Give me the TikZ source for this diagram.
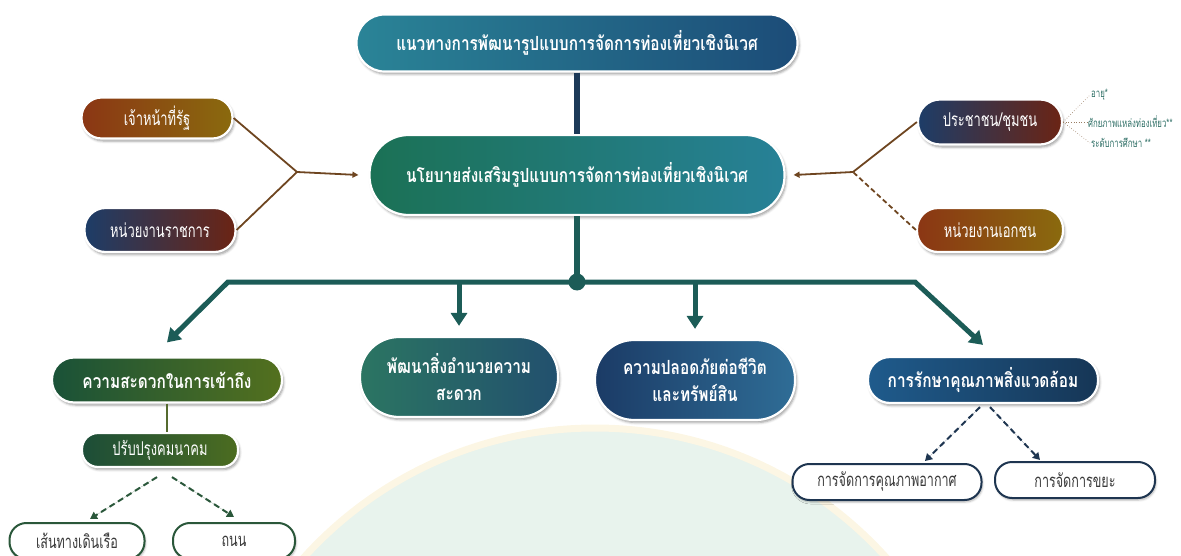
\documentclass[tikz,border=0pt]{standalone}
\usepackage{fontspec}
\newfontfamily\thaib[Script=Thai,FakeStretch=0.79]{Loma}
\newfontfamily\thair[Script=Thai,FakeStretch=0.68]{Loma}
\usetikzlibrary{arrows.meta,shadows.blur}
\definecolor{topL}{HTML}{2A8497}
\definecolor{topR}{HTML}{1C4C78}
\definecolor{midL}{HTML}{1B7155}
\definecolor{midR}{HTML}{278197}
\definecolor{rustL}{HTML}{8B3614}
\definecolor{rustR}{HTML}{8A6A0E}
\definecolor{navyL}{HTML}{1D3D68}
\definecolor{navyR}{HTML}{6B2414}
\definecolor{accL}{HTML}{1A5238}
\definecolor{accR}{HTML}{53701E}
\definecolor{facL}{HTML}{2B7562}
\definecolor{facR}{HTML}{22506E}
\definecolor{safL}{HTML}{1B3B66}
\definecolor{safR}{HTML}{2F6D96}
\definecolor{envL}{HTML}{1F5B8C}
\definecolor{envR}{HTML}{163656}
\definecolor{traL}{HTML}{1C4D38}
\definecolor{traR}{HTML}{4C6C20}
\definecolor{busc}{HTML}{1C5C57}
\definecolor{navyline}{HTML}{1D3A58}
\definecolor{brownline}{HTML}{6E4520}
\definecolor{greenline}{HTML}{2A573A}
\definecolor{oliveline}{HTML}{556B2F}
\definecolor{envline}{HTML}{1E3550}
\definecolor{txtgray}{HTML}{3A3A3A}
\definecolor{smalltxt}{HTML}{2F6F66}
\definecolor{wmgreen}{HTML}{E8F3ED}
\definecolor{wmring}{HTML}{FCF6E4}
\tikzset{
  pill/.style={rectangle, text=white, draw=white, line width=2.2pt, align=center, inner sep=2pt,
    blur shadow={shadow xshift=1.5pt, shadow yshift=-2.5pt, shadow blur radius=2.5pt, shadow opacity=40}},
  outl/.style={rectangle, fill=white, line width=2pt, text=txtgray, align=center, inner sep=2pt,
    blur shadow={shadow xshift=1pt, shadow yshift=-2pt, shadow blur radius=2pt, shadow opacity=30},
    font=\thair\fontsize{18.5}{20}\selectfont},
  boldtxt/.style={font=\thaib\bfseries\fontsize{19.5}{27}\selectfont},
  regtxt/.style={font=\thair\fontsize{19}{21}\selectfont},
  bus/.style={draw=busc, line width=5pt},
  busarrow/.style={bus, -{Triangle[width=16pt,length=13pt]}},
  brownln/.style={draw=brownline, line width=1.8pt},
  dasharrow/.style={line width=2pt, dash pattern=on 6pt off 4pt, -{Triangle[width=8pt,length=7pt]}},
  smalllbl/.style={text=smalltxt, font=\thair\fontsize{11.5}{12}\selectfont, anchor=west, inner sep=1pt},
  fanline/.style={draw=brownline!70, line width=0.6pt, dotted}
}
\begin{document}
\begin{tikzpicture}[x=1pt,y=-1pt]
\useasboundingbox (0,0) rectangle (1181,556);
% watermark background
\begin{scope}
\clip (0,0) rectangle (1181,556);
\fill[wmgreen] (595,820) circle (390);
\draw[wmring, line width=7pt] (595,820) circle (392);
\end{scope}

% nodes
\node[pill, boldtxt, left color=topL, right color=topR, minimum width=441pt, minimum height=57pt, rounded corners=28pt] (top) at (577,43) {แนวทางการพัฒนารูปแบบการจัดการท่องเที่ยวเชิงนิเวศ};
\node[pill, boldtxt, left color=midL, right color=midR, minimum width=415pt, minimum height=80pt, rounded corners=39pt] (mid) at (577,175) {นโยบายส่งเสริมรูปแบบการจัดการท่องเที่ยวเชิงนิเวศ};

\node[pill, regtxt, left color=rustL, right color=rustR, minimum width=151pt, minimum height=41pt, rounded corners=20pt] (state) at (157,118) {เจ้าหน้าที่รัฐ};
\node[pill, regtxt, left color=navyL, right color=navyR, minimum width=151pt, minimum height=44pt, rounded corners=21pt] (gov) at (160,230) {หน่วยงานราชการ};
\node[pill, regtxt, left color=navyL, right color=navyR, minimum width=144pt, minimum height=45pt, rounded corners=22pt] (people) at (990,122) {ประชาชน/ชุมชน};
\node[pill, regtxt, left color=rustL, right color=rustR, minimum width=146pt, minimum height=44pt, rounded corners=21pt] (private) at (990,230) {หน่วยงานเอกชน};

\node[smalllbl] (age) at (1090,95) {อายุ*};
\node[smalllbl] (pot) at (1087,122) {ศักยภาพแหล่งท่องเที่ยว**};
\node[smalllbl] (edu) at (1090,143) {ระดับการศึกษา **};

\node[pill, boldtxt, left color=accL, right color=accR, minimum width=230pt, minimum height=45pt, rounded corners=22pt] (access) at (167,380) {ความสะดวกในการเข้าถึง};
\node[pill, boldtxt, left color=facL, right color=facR, minimum width=198pt, minimum height=80pt, rounded corners=39pt] (facility) at (459,377) {พัฒนาสิ่งอำนวยความ\\สะดวก};
\node[pill, boldtxt, left color=safL, right color=safR, minimum width=200pt, minimum height=80pt, rounded corners=39pt] (safety) at (695,380) {ความปลอดภัยต่อชีวิต\\และทรัพย์สิน};
\node[pill, boldtxt, left color=envL, right color=envR, minimum width=230pt, minimum height=46pt, rounded corners=22pt] (env) at (983,380) {การรักษาคุณภาพสิ่งแวดล้อม};

\node[pill, regtxt, left color=traL, right color=traR, minimum width=156pt, minimum height=34pt, rounded corners=16pt] (transport) at (160,450) {ปรับปรุงคมนาคม};
\node[outl, draw=greenline, minimum width=135pt, minimum height=36pt, rounded corners=17pt] (boat) at (77,541) {เส้นทางเดินเรือ};
\node[outl, draw=greenline, minimum width=122pt, minimum height=36pt, rounded corners=17pt] (road) at (234,541) {ถนน};
\node[outl, draw=envline, minimum width=189pt, minimum height=36pt, rounded corners=17pt] (air) at (887,482) {การจัดการคุณภาพอากาศ};
\node[outl, draw=envline, minimum width=160pt, minimum height=36pt, rounded corners=17pt] (waste) at (1075,480) {การจัดการขยะ};

% coordinates
\coordinate (hub) at (577,282);
\coordinate (bl) at (228,282);
\coordinate (br) at (915,282);
\coordinate (lj) at (297,172);
\coordinate (rj) at (853,172);

% top connectors
\draw[draw=navyline, line width=6pt] (top.south) -- (mid.north);
\draw[bus, line width=6pt] (mid.south) -- (hub);
\draw[busarrow] (hub) -- (bl) -- ([yshift=14pt]access.north);
\draw[busarrow] (hub) -- (br) -- ([yshift=11pt]env.north);
\draw[busarrow] (facility.north |- hub) -- ([yshift=10pt]facility.north);
\draw[busarrow] (safety.north |- hub) -- ([yshift=10pt]safety.north);
\fill[busc] (hub) circle (8.5);

% side connectors
\draw[brownln] (state.east) -- (lj);
\draw[brownln] (gov.east) -- (lj);
\draw[brownln, -{Triangle[width=6pt,length=6pt]}] (lj) -- ([xshift=-10pt]mid.west);
\draw[brownln] (people.west) -- (rj);
\draw[brownln, dash pattern=on 5pt off 3pt] (private.west) -- (rj);
\draw[brownln, -{Triangle[width=6pt,length=6pt]}] (rj) -- ([xshift=8pt]mid.east);

\draw[fanline] (people.east) -- (age.west);
\draw[fanline] (people.east) -- (pot.west);
\draw[fanline] (people.east) -- (edu.west);

% lower connectors
\draw[draw=oliveline, line width=2pt] (access.south) -- (access.south |- transport.north);
\draw[dasharrow, draw=greenline, fill=greenline] ([xshift=-3pt,yshift=-9pt]transport.south) -- ([xshift=13pt,yshift=3pt]boat.north);
\draw[dasharrow, draw=greenline, fill=greenline] ([xshift=12pt,yshift=-9pt]transport.south) -- ([yshift=5pt]road.north);
\draw[dasharrow, draw=envline, fill=envline] ([xshift=-3pt,yshift=-3pt]env.south) -- ([xshift=38pt,yshift=2pt]air.north);
\draw[dasharrow, draw=envline, fill=envline] ([xshift=7pt,yshift=-3pt]env.south) -- ([xshift=-35pt,yshift=1pt]waste.north);
\end{tikzpicture}
\end{document}
